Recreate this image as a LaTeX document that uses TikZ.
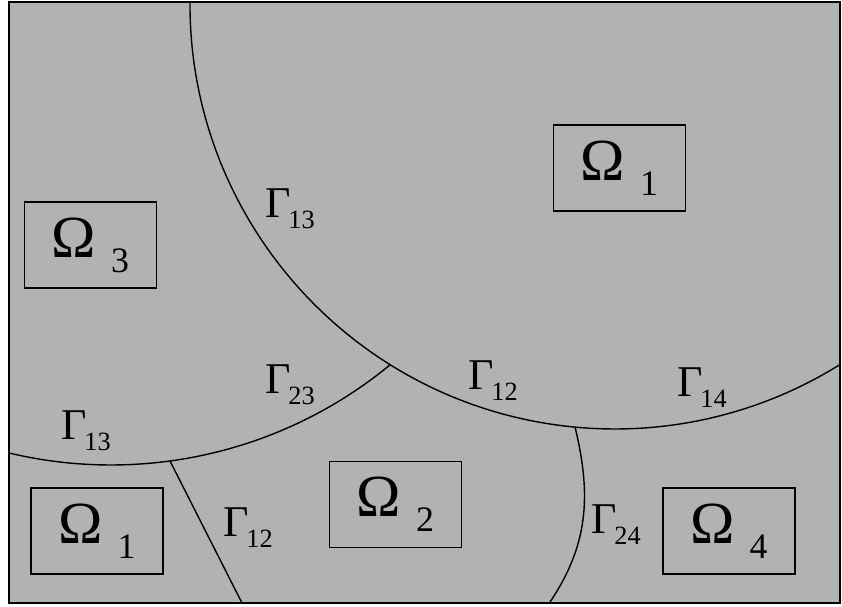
\documentclass[tikz,border=0pt]{standalone}
\usepackage{fontspec}
\usepackage{graphicx}
\setmainfont{Liberation Serif}
\definecolor{panegray}{gray}{0.7}
% letter with a lowered, smaller index
\newcommand{\sublab}[3]{#1\kern#3\raisebox{-0.25em}{\scalebox{0.6}{#2}}}

\tikzset{% 1 unit = 1 px of the sketch
  subdom/.style ={draw=black, line width=1pt, minimum width=2.64cm,
    minimum height=1.72cm, inner sep=0pt, font=\fontsize{34}{40}\selectfont},
  iface/.style ={inner sep=0pt, font=\fontsize{25}{30}\selectfont},
  cut/.style   ={line width=0.8pt},
}

\begin{document}
\begin{tikzpicture}[x=0.02cm, y=0.02cm]
  \useasboundingbox (0,0) rectangle (842,607);
  \fill[panegray] (9,4) rectangle (840,605);
  \coordinate (c1) at (615,603); % centre of the big arc
  \coordinate (c2) at (111,581); % centre of the lower arc
  \coordinate (j1) at (390.5,242.2);
  \coordinate (j2) at (575,180);
  \coordinate (j3) at (170,146);
  \coordinate (b1) at (243,2);
  \coordinate (b2) at (548,2);
  \begin{scope}
    \clip (9,4) rectangle (840,605);
    \draw[cut] ([shift={(175:425)}]c1) arc[start angle=175, end angle=310, radius=425];
    \draw[cut] ([shift={(252:439)}]c2) arc[start angle=252, end angle=309.5, radius=439];
    \draw[cut] (j3) -- (b1);
    \draw[cut] (j2) .. controls (592,110) and (588,60) .. (b2);
  \end{scope}
  \draw[line width=1.4pt] (9,4) rectangle (840,605);
  \node[subdom] (o1) at (619.5,439) {\sublab{Ω}{1}{0.25em}};
  \node[subdom] (o3) at (90.5,362) {\sublab{Ω}{3}{0.25em}};
  \node[subdom] (o1b) at (97,76) {\sublab{Ω}{1}{0.25em}};
  \node[subdom] (o2) at (395.5,102.5) {\sublab{Ω}{2}{0.25em}};
  \node[subdom] (o4) at (729,76) {\sublab{Ω}{4}{0.25em}};
  \node[iface] (g13) at (290,398) {\sublab{Γ}{13}{-0.05em}};
  \node[iface] (g13b) at (86,176) {\sublab{Γ}{13}{-0.05em}};
  \node[iface] (g23) at (290,222) {\sublab{Γ}{23}{-0.05em}};
  \node[iface] (g12) at (493,226) {\sublab{Γ}{12}{-0.05em}};
  \node[iface] (g14) at (702,219) {\sublab{Γ}{14}{-0.05em}};
  \node[iface] (g12b) at (248,79) {\sublab{Γ}{12}{-0.05em}};
  \node[iface] (g24) at (616,82) {\sublab{Γ}{24}{-0.05em}};
\end{tikzpicture}
\end{document}
